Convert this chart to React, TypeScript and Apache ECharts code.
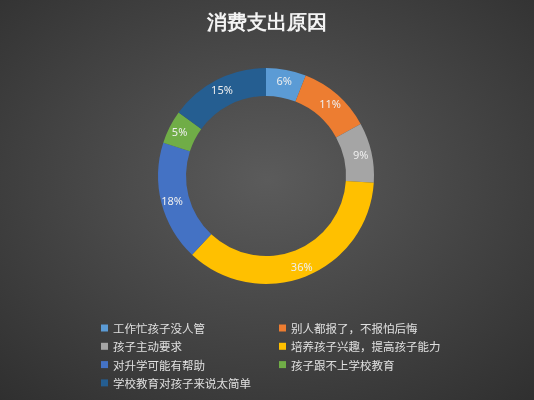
import React, { useEffect, useRef } from 'react';
import * as echarts from 'echarts';

const reasons = [
  '工作忙孩子没人管',
  '别人都报了，不报怕后悔',
  '孩子主动要求',
  '培养孩子兴趣，提高孩子能力',
  '对升学可能有帮助',
  '孩子跟不上学校教育',
  '学校教育对孩子来说太简单',
];
const shares = [6, 11, 9, 36, 18, 5, 15];
const colors = ['#5B9BD5', '#ED7D31', '#A5A5A5', '#FFC000', '#4472C4', '#70AD47', '#255E91'];

const legendLeftCol = [reasons[0], reasons[2], reasons[4], reasons[6]];
const legendRightCol = [reasons[1], reasons[3], reasons[5]];

const App: React.FC = () => {
  const chartRef = useRef<HTMLDivElement>(null);

  useEffect(() => {
    if (!chartRef.current) return;
    const chart = echarts.init(chartRef.current, null, { renderer: 'svg' });

    const legendBase = {
      orient: 'vertical' as const,
      top: 316,
      itemWidth: 7,
      itemHeight: 7,
      itemGap: 4.3,
      icon: 'rect',
      textStyle: {
        color: '#e0e0e0',
        fontSize: 11.5,
        lineHeight: 14,
        fontFamily: 'Noto Sans CJK SC',
      },
    };

    chart.setOption({
      animation: false,
      backgroundColor: {
        type: 'radial',
        x: 0.5,
        y: 0.45,
        r: 0.75,
        colorStops: [
          { offset: 0, color: '#5b5b5b' },
          { offset: 1, color: '#2f2f2f' },
        ],
      },
      color: colors,
      title: {
        text: '消费支出原因',
        left: 'center',
        top: 12,
        padding: 0,
        textStyle: {
          color: '#f4f4f4',
          fontSize: 20,
          fontWeight: 'bold',
          fontFamily: 'serif',
        },
      },
      legend: [
        { ...legendBase, left: 96, data: legendLeftCol },
        { ...legendBase, left: 274, data: legendRightCol },
      ],
      series: [
        {
          type: 'pie',
          center: [266, 176],
          radius: [80, 108],
          startAngle: 90,
          clockwise: true,
          label: {
            show: true,
            position: 'inside',
            formatter: '{d}%',
            color: '#eeeeee',
            fontSize: 11,
            fontFamily: 'Noto Sans',
          },
          labelLine: { show: false },
          emphasis: { disabled: true },
          data: reasons.map((name, i) => ({ name, value: shares[i] })),
        },
      ],
    });

    return () => {
      chart.dispose();
    };
  }, []);

  return (
    <div
      ref={chartRef}
      style={{ position: 'fixed', left: 0, top: 0, width: '534px', height: '400px' }}
    />
  );
};

export default App;
